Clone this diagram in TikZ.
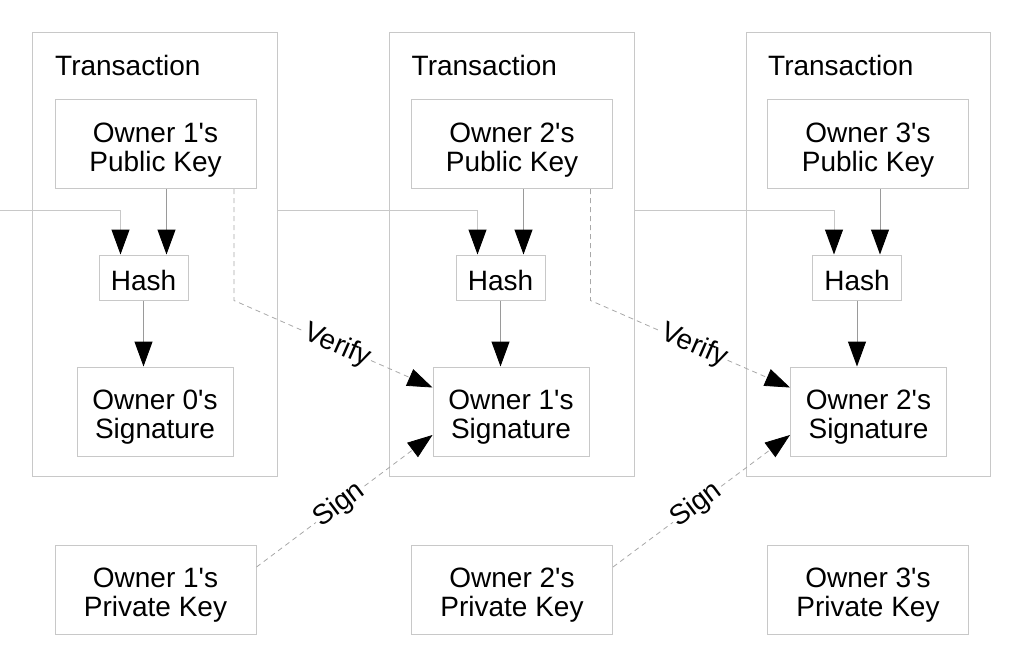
\documentclass[tikz,border=0pt]{standalone}
\usepackage{fontspec}
\setmainfont{Liberation Sans}
\usetikzlibrary{arrows.meta}

\definecolor{boxgray}{HTML}{C8C8C8}
\definecolor{linegray}{HTML}{9A9A9A}
\definecolor{dashgray}{HTML}{A8A8A8}

\tikzset{
	box/.style={draw=boxgray,line width=1pt,inner sep=0pt,align=center,text height=32pt,text depth=6pt},
	twoline/.style={box,text height=60pt,text depth=6pt},
	tip/.style={-{Triangle[width=18pt,length=25pt,color=black]}},
	arr/.style={draw=linegray,line width=1pt,tip},
	chain/.style={draw=boxgray,line width=1pt,tip},
	vrf/.style={draw=dashgray,line width=0.8pt,dash pattern=on 5pt off 4pt,tip},
	lbl/.style={fill=white,inner sep=1pt,sloped}
}

\begin{document}
\begin{tikzpicture}[x=1pt,y=-1pt,font=\fontsize{28}{29}\selectfont]
			\useasboundingbox (0,0) rectangle (1023,667);
			% transactions
			\draw (155,254.5) node [box,minimum width=245pt,minimum height=444pt] (trans1) {};
			\draw (511.5,254.5) node [box,minimum width=245pt,minimum height=444pt] (trans2) {};
			\draw (868,254.5) node [box,minimum width=244pt,minimum height=444pt] (trans3) {};
			\draw (55,75) node [anchor=base west,inner sep=0pt] (title1) {Transaction};
			\draw (411.5,75) node [anchor=base west,inner sep=0pt] (title2) {Transaction};
			\draw (768,75) node [anchor=base west,inner sep=0pt] (title3) {Transaction};
			% public keys
			\draw (155.5,144) node [twoline,minimum width=201pt,minimum height=89pt] (pub1) {Owner 1\textquotesingle s\\Public Key};
			\draw (512,144) node [twoline,minimum width=201pt,minimum height=89pt] (pub2) {Owner 2\textquotesingle s\\Public Key};
			\draw (868,144) node [twoline,minimum width=201pt,minimum height=89pt] (pub3) {Owner 3\textquotesingle s\\Public Key};
			% hashes
			\draw (143.5,277.5) node [box,minimum width=89pt,minimum height=45pt] (hash1) {Hash};
			\draw (500.5,277.5) node [box,minimum width=89pt,minimum height=45pt] (hash2) {Hash};
			\draw (857,277.5) node [box,minimum width=89pt,minimum height=45pt] (hash3) {Hash};
			% signatures
			\draw (155,411.5) node [twoline,minimum width=156pt,minimum height=89pt] (sig1) {Owner 0\textquotesingle s\\Signature};
			\draw (511,411.5) node [twoline,minimum width=156pt,minimum height=89pt] (sig2) {Owner 1\textquotesingle s\\Signature};
			\draw (868.5,411.5) node [twoline,minimum width=156pt,minimum height=89pt] (sig3) {Owner 2\textquotesingle s\\Signature};
			% private keys
			\draw (155.5,589.5) node [twoline,minimum width=201pt,minimum height=89pt] (priv1) {Owner 1\textquotesingle s\\Private Key};
			\draw (512,589.5) node [twoline,minimum width=201pt,minimum height=89pt] (priv2) {Owner 2\textquotesingle s\\Private Key};
			\draw (868,589.5) node [twoline,minimum width=201pt,minimum height=89pt] (priv3) {Owner 3\textquotesingle s\\Private Key};
			% entry points on the hashes
			\coordinate (prev) at (0,210);
			\coordinate (in1) at ([xshift=22pt]hash1.north west);
			\coordinate (in2) at ([xshift=22pt]hash2.north west);
			\coordinate (in3) at ([xshift=22pt]hash3.north west);
			\coordinate (key1) at ([xshift=-22pt]hash1.north east);
			\coordinate (key2) at ([xshift=-22pt]hash2.north east);
			\coordinate (key3) at ([xshift=-22pt]hash3.north east);
			\coordinate (ver1) at ([xshift=-22.5pt]pub1.south east);
			\coordinate (ver2) at ([xshift=-22.5pt]pub2.south east);
			\draw[chain] (prev) -| (in1);
			\draw[chain] (trans1.east |- prev) -| (in2);
			\draw[chain] (trans2.east |- prev) -| (in3);
			\draw[arr] (key1 |- pub1.south) -- (key1);
			\draw[arr] (key2 |- pub2.south) -- (key2);
			\draw[arr] (key3 |- pub3.south) -- (key3);
			\draw[arr] (hash1.south) -- (hash1.south |- sig1.north);
			\draw[arr] (hash2.south) -- (hash2.south |- sig2.north);
			\draw[arr] (hash3.south) -- (hash3.south |- sig3.north);
			% verify and sign
			\draw[vrf] (ver1) -- (ver1 |- hash1.south) -- node [lbl,pos=0.52] {Verify} ([yshift=-21pt]sig2.north west);
			\draw[vrf] (ver2) -- (ver2 |- hash2.south) -- node [lbl,pos=0.52] {Verify} ([yshift=-21pt]sig3.north west);
			\draw[vrf] ([yshift=22.5pt]priv1.east) -- node [lbl,pos=0.47] {Sign} ([yshift=-23.5pt]sig2.west);
			\draw[vrf] ([yshift=22.5pt]priv2.east) -- node [lbl,pos=0.47] {Sign} ([yshift=-23.5pt]sig3.west);
		\end{tikzpicture}
\end{document}
